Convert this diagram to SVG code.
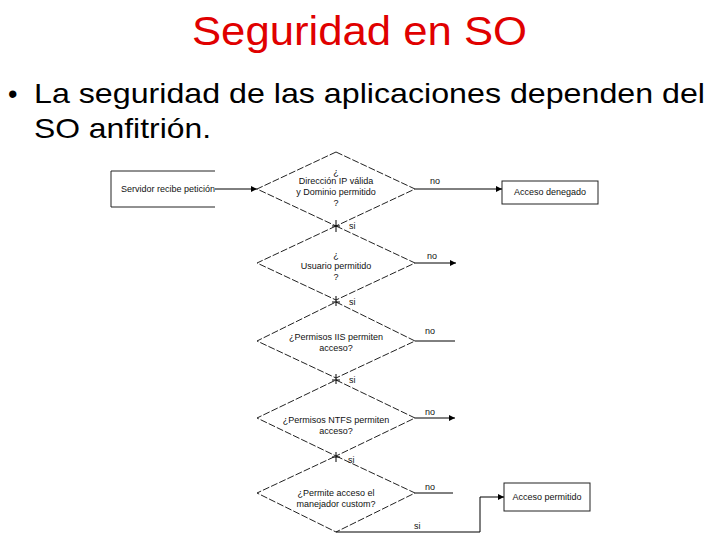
<svg xmlns="http://www.w3.org/2000/svg" width="720" height="540" viewBox="0 0 720 540">
<style>
.t{font-family:"Liberation Sans",Arial,sans-serif}
.s{font-family:"Liberation Sans",Arial,sans-serif;font-size:9px;fill:#111}
.d{fill:#fff;stroke:#222;stroke-width:1;stroke-dasharray:7,2}
.b{fill:#fff;stroke:#222;stroke-width:1}
.c{fill:none;stroke:#000;stroke-width:1}
</style>
<defs><marker id="a" markerWidth="6" markerHeight="6" refX="6" refY="3" orient="auto"><path d="M0,0L6,3L0,6z" fill="#000"/></marker></defs>
<rect width="720" height="540" fill="#fff"/>
<text class="t" x="192" y="45" font-size="40" fill="#e00000" textLength="335" lengthAdjust="spacingAndGlyphs">Seguridad en SO</text>
<text class="t" x="8" y="103" font-size="27">•</text>
<text class="t" x="34" y="103" font-size="28" textLength="671" lengthAdjust="spacingAndGlyphs">La seguridad de las aplicaciones dependen del</text>
<text class="t" x="34" y="138" font-size="28" textLength="177" lengthAdjust="spacingAndGlyphs">SO anfitrión.</text>
<g id="n0"><path class="b" d="M215,171H111V207H215"/><text class="s" x="168" y="192" text-anchor="middle">Servidor recibe petición</text></g>
<g id="n1"><polygon class="d" points="336,152 415,189 336,226 257,189"/><text class="s" x="336" y="175" text-anchor="middle">¿</text><text class="s" x="336" y="184" text-anchor="middle">Dirección IP válida</text><text class="s" x="336" y="195" text-anchor="middle">y Dominio permitido</text><text class="s" x="336" y="206" text-anchor="middle">?</text></g>
<g id="n2"><polygon class="d" points="336,226 415,263 336,300 257,263"/><text class="s" x="336" y="258" text-anchor="middle">¿</text><text class="s" x="336" y="269" text-anchor="middle">Usuario permitido</text><text class="s" x="336" y="280" text-anchor="middle">?</text></g>
<g id="n3"><polygon class="d" points="336,302 415,341 336,378 257,341"/><text class="s" x="336" y="340" text-anchor="middle">¿Permisos IIS permiten</text><text class="s" x="336" y="351" text-anchor="middle">acceso?</text></g>
<g id="n4"><polygon class="d" points="336,380 415,418 336,456 257,418"/><text class="s" x="336" y="423" text-anchor="middle">¿Permisos NTFS permiten</text><text class="s" x="336" y="434" text-anchor="middle">acceso?</text></g>
<g id="n5"><polygon class="d" points="336,456 415,493 336,532 257,493"/><text class="s" x="336" y="496" text-anchor="middle">¿Permite acceso el</text><text class="s" x="336" y="507" text-anchor="middle">manejador custom?</text></g>
<g id="n6"><rect class="b" x="502" y="181" width="96" height="23"/><text class="s" x="550" y="195" text-anchor="middle">Acceso denegado</text></g>
<g id="n7"><rect class="b" x="504" y="483" width="86" height="28"/><text class="s" x="547" y="500" text-anchor="middle">Acceso permitido</text></g>
<g id="edges">
<path class="c" d="M215,189H257" marker-end="url(#a)"/>
<path class="c" d="M415,189H502" marker-end="url(#a)"/>
<path class="c" d="M415,263H456" marker-end="url(#a)"/>
<path class="c" d="M415,341H455"/>
<path class="c" d="M415,418H455" marker-end="url(#a)"/>
<path class="c" d="M415,493H453"/>
<path class="c" d="M336,532H480V497H504" marker-end="url(#a)"/>
<path class="c" d="M336,220V232M332,226H340M336,296V306M332,302H340M336,374V384M332,380H340M336,452V462M332,457H340"/>
<text class="s" x="430" y="184">no</text><text class="s" x="427" y="259">no</text><text class="s" x="425" y="334">no</text><text class="s" x="425" y="415">no</text><text class="s" x="425" y="490">no</text>
<text class="s" x="349" y="229">si</text><text class="s" x="349" y="305">si</text><text class="s" x="349" y="383">si</text><text class="s" x="348" y="463">si</text><text class="s" x="414" y="529">si</text>
</g>
</svg>
